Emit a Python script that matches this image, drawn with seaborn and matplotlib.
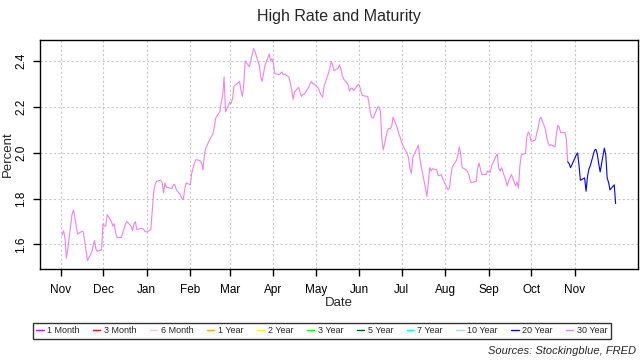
import pandas as pd
import matplotlib
matplotlib.use("Agg")
import matplotlib.pyplot as plt
import matplotlib.dates as mdates
from matplotlib.lines import Line2D
import seaborn as sns

# ── Data (percent, one value per business day) ─────────────────
months = ["2020-11", "2020-12", "2021-01", "2021-02", "2021-03", "2021-04", "2021-05",
          "2021-06", "2021-07", "2021-08", "2021-09", "2021-10", "2021-11"]

nov20 = [1.64, 1.66, 1.63, 1.54, 1.58, 1.73, 1.75, 1.72, 1.68, 1.645, 1.657, 1.655, 1.615,
         1.57, 1.53, 1.566, 1.596, 1.617, 1.58, 1.57, 1.577]
dec20 = [1.69, 1.68, 1.68, 1.73, 1.70, 1.68, 1.69, 1.65, 1.63, 1.63, 1.65, 1.67, 1.69, 1.70,
         1.68, 1.66, 1.69, 1.70, 1.665, 1.67, 1.67, 1.665, 1.655]
jan21 = [1.655, 1.665, 1.75, 1.83, 1.86, 1.875, 1.88, 1.87, 1.825, 1.867, 1.85, 1.845, 1.845,
         1.86, 1.86, 1.84, 1.815, 1.80, 1.795, 1.84, 1.868]
feb21 = [1.86, 1.91, 1.935, 1.955, 1.97, 1.965, 1.955, 1.925, 1.99, 2.02, 2.06, 2.07, 2.08,
         2.11, 2.15, 2.18, 2.22, 2.25, 2.33, 2.178]
mar21 = [2.22, 2.215, 2.236, 2.29, 2.295, 2.31, 2.27, 2.245, 2.30, 2.40, 2.374, 2.403, 2.43,
         2.454, 2.44, 2.38, 2.33, 2.31, 2.345, 2.38, 2.43, 2.40, 2.41]
apr21 = [2.388, 2.345, 2.34, 2.345, 2.352, 2.34, 2.342, 2.33, 2.305, 2.275, 2.232, 2.265,
         2.285, 2.26, 2.245, 2.255, 2.255, 2.285, 2.30, 2.31, 2.30, 2.30]
may21 = [2.28, 2.263, 2.25, 2.242, 2.29, 2.345, 2.365, 2.398, 2.384, 2.358, 2.368, 2.383,
         2.363, 2.333, 2.32, 2.297, 2.268, 2.28, 2.281, 2.27, 2.297]
jun21 = [2.295, 2.272, 2.25, 2.248, 2.245, 2.21, 2.17, 2.152, 2.152, 2.198, 2.20, 2.18, 2.06,
         2.012, 2.098, 2.105, 2.105, 2.115, 2.155, 2.108, 2.082, 2.068]
jul21 = [2.045, 2.03, 1.997, 1.975, 1.928, 1.91, 1.98, 2.02, 2.033, 1.978, 1.937, 1.91, 1.81,
         1.865, 1.935, 1.92, 1.93, 1.925, 1.90, 1.90, 1.905, 1.89]
aug21 = [1.85, 1.838, 1.845, 1.898, 1.938, 1.967, 1.99, 2.025, 1.995, 1.935, 1.925, 1.915,
         1.90, 1.872, 1.87, 1.875, 1.93, 1.955, 1.93, 1.905, 1.905, 1.92]
sep21 = [1.915, 1.915, 1.943, 1.984, 1.994, 1.93, 1.92, 1.935, 1.88, 1.855, 1.876, 1.89,
         1.905, 1.855, 1.872, 1.845, 1.94, 1.99, 1.997, 2.07, 2.09, 2.08]
oct21 = [2.048, 2.055, 2.085, 2.11, 2.145, 2.155, 2.105, 2.07, 2.045, 2.03, 2.035, 2.025,
         2.085, 2.12, 2.11, 2.087, 2.088, 2.06, 1.96, 1.952, 1.935]
nov21 = [1.975, 1.99, 1.999, 1.945, 1.88, 1.89, 1.832, 1.895, 1.928, 1.943, 2.01, 2.015,
         1.993, 1.952, 1.916, 2.02, 1.99, 1.89, 1.87, 1.838, 1.86, 1.778]

# 30 Year is the highest until this day, 20 Year after
switch_date = "2021-10-27"

maturities = ["1 Month", "3 Month", "6 Month", "1 Year", "2 Year", "3 Year",
              "5 Year", "7 Year", "10 Year", "20 Year", "30 Year"]
mat_colors = ["#A020F0", "#FF0000", "#FFC0CB", "#FFA500", "#FFFF00", "#00FF00",
              "#006400", "#00FFFF", "#ADD8E6", "#0000FF", "#EE82EE"]

# ── Build frame ────────────────────────────────────────────────
monthly = [nov20, dec20, jan21, feb21, mar21, apr21, may21,
           jun21, jul21, aug21, sep21, oct21, nov21]
parts = []
for m, vals in zip(months, monthly):
    days = pd.bdate_range(m + "-01", periods=len(vals))
    parts.append(pd.DataFrame({"date": days, "rate": vals}))
rates = pd.concat(parts, ignore_index=True)

sw = pd.Timestamp(switch_date)
high30 = rates[rates["date"] <= sw].assign(maturity="30 Year")
high20 = rates[rates["date"] >= sw].assign(maturity="20 Year")
df = pd.concat([high30, high20], ignore_index=True)

# ── Plot ───────────────────────────────────────────────────────
sns.set_style("white")
plt.rcParams["font.family"] = ["Liberation Sans", "DejaVu Sans"]

fig = plt.figure(figsize=(6.4, 3.6), dpi=100)
ax = fig.add_axes([0.0625, 0.2528, 0.934, 0.636])

pal = dict(zip(maturities, mat_colors))
sns.lineplot(data=df, x="date", y="rate", hue="maturity", units="maturity",
             estimator=None, palette={k: pal[k] for k in ["30 Year", "20 Year"]},
             legend=False, linewidth=0.8, ax=ax)

ax.margins(x=0.04, y=0.04)
ticks = pd.date_range("2020-11-01", "2021-11-01", freq="MS")
ax.set_xticks(ticks)
ax.xaxis.set_major_formatter(mdates.DateFormatter("%b"))
ax.set_yticks([1.6, 1.8, 2.0, 2.2, 2.4])
ax.set_yticklabels(["1.6", "1.8", "2.0", "2.2", "2.4"], rotation=90, va="center")

ax.grid(True, color="#C8C8C8", linestyle=(0, (2, 2)), linewidth=0.8)
for s in ax.spines.values():
    s.set_color("black")
    s.set_linewidth(1.0)
ax.tick_params(axis="both", direction="out", length=5, width=1, color="black",
               labelsize=8.5, labelcolor="black")
ax.tick_params(axis="x", pad=6, bottom=True)
ax.tick_params(axis="y", pad=4, left=True)
ax.set_xlabel("")
ax.set_ylabel("")

fig.text(0.53, 1 - 16 / 360, "High Rate and Maturity", ha="center", va="center", fontsize=11.5)
fig.text(8 / 640, 1 - 154 / 360, "Percent", rotation=90, ha="center", va="center", fontsize=9.5)
fig.text(339 / 640, 1 - 303 / 360, "Date", ha="center", va="center", fontsize=9.5)
fig.text(636 / 640, 1 - 351 / 360, "Sources: Stockingblue, FRED", ha="right", va="center",
         fontsize=8, style="italic")

handles = [Line2D([0], [0], color=c, lw=1) for c in mat_colors]
leg = fig.legend(handles, maturities, loc="center", bbox_to_anchor=(0.503, 0.081), ncol=11,
                 fontsize=6.5, frameon=True, fancybox=False, edgecolor="black",
                 handlelength=0.8, handletextpad=0.4, columnspacing=1.5, borderpad=0.4)
leg.get_frame().set_linewidth(1.0)

fig.savefig("out.png", dpi=100)
